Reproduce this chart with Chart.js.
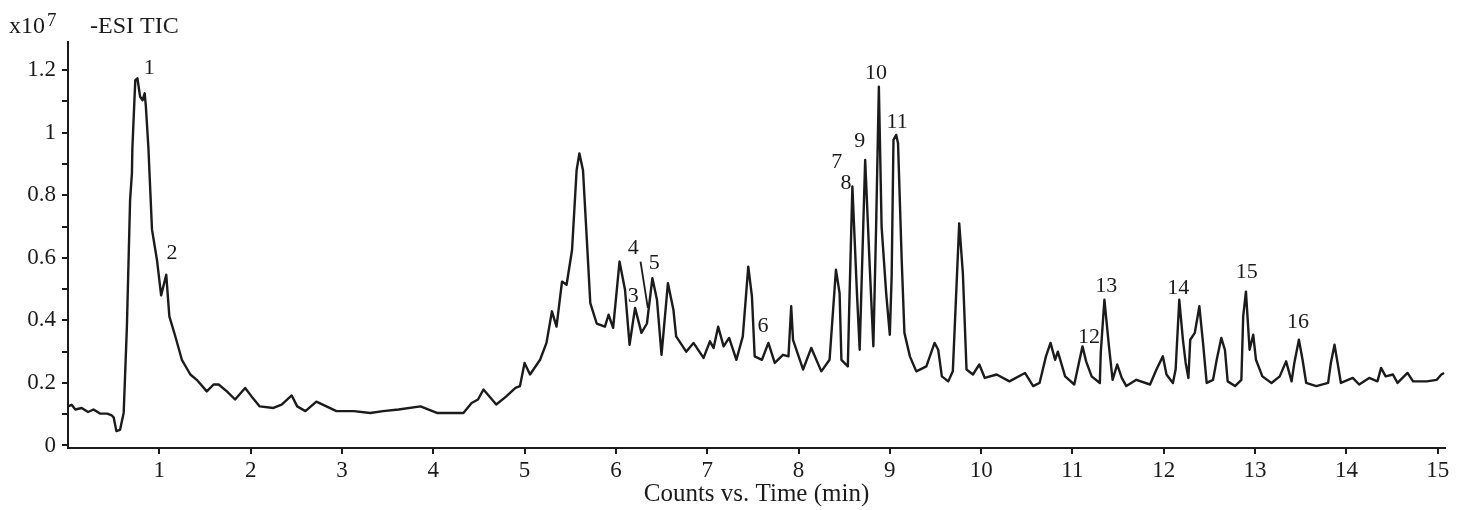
<!DOCTYPE html>
<html>
<head>
<meta charset="utf-8">
<script src="https://cdn.jsdelivr.net/npm/chart.js@4"></script>
<style>
  html, body { margin: 0; padding: 0; background: #fff; }
  #wrap { width: 1464px; height: 510px; }
</style>
</head>
<body>
<div id="wrap"><canvas id="tic"></canvas></div>
<script>
// retention time (min) and TIC counts (x10^7)
const timeMin = [
  0.00, 0.04, 0.08, 0.15, 0.22, 0.28, 0.35, 0.43, 0.48, 0.50, 0.53, 0.57, 0.61, 0.645, 0.68, 0.70, 0.705,
  0.718, 0.737, 0.76, 0.79, 0.817, 0.84, 0.853, 0.88, 0.92, 0.974, 1.02, 1.076, 1.11, 1.174, 1.247,
  1.34, 1.41, 1.52, 1.594, 1.65, 1.74, 1.83, 1.94, 2.01, 2.10, 2.25, 2.34, 2.45, 2.51, 2.60, 2.72,
  2.83, 2.94, 3.13, 3.31, 3.45, 3.62, 3.86, 4.04, 4.33, 4.42, 4.49, 4.55, 4.69, 4.80, 4.90, 4.95,
  5.00, 5.06, 5.17, 5.24, 5.30, 5.35, 5.41, 5.46, 5.52, 5.57, 5.60, 5.64, 5.68, 5.72, 5.79, 5.88,
  5.92, 5.97, 6.04, 6.10, 6.15, 6.21, 6.28, 6.34, 6.40, 6.45, 6.50, 6.57, 6.63, 6.66, 6.77, 6.85,
  6.96, 7.03, 7.07, 7.12, 7.18, 7.24, 7.32, 7.39, 7.45, 7.49, 7.52, 7.60, 7.67, 7.74, 7.83, 7.89,
  7.92, 7.94, 8.05, 8.14, 8.25, 8.34, 8.41, 8.45, 8.47, 8.54, 8.555, 8.59, 8.64, 8.67, 8.73, 8.78,
  8.82, 8.85, 8.88, 8.91, 8.96, 9.00, 9.02, 9.04, 9.07, 9.09, 9.13, 9.16, 9.22, 9.29, 9.40, 9.49,
  9.53, 9.57, 9.64, 9.69, 9.76, 9.80, 9.84, 9.91, 9.98, 10.04, 10.17, 10.31, 10.48, 10.57, 10.64, 10.71,
  10.76, 10.81, 10.84, 10.92, 11.02, 11.11, 11.15, 11.21, 11.30, 11.31, 11.35, 11.40, 11.44, 11.49, 11.54, 11.59,
  11.70, 11.85, 11.92, 11.99, 12.03, 12.10, 12.13, 12.17, 12.21, 12.24, 12.27, 12.29, 12.34, 12.39, 12.43, 12.47,
  12.54, 12.58, 12.63, 12.67, 12.70, 12.78, 12.85, 12.87, 12.90, 12.94, 12.98, 13.01, 13.08, 13.18, 13.27, 13.34,
  13.40, 13.43, 13.48, 13.52, 13.56, 13.67, 13.80, 13.83, 13.87, 13.91, 13.94, 14.07, 14.14, 14.25, 14.34, 14.38,
  14.43, 14.51, 14.56, 14.67, 14.73, 14.88, 14.99, 15.04, 15.07
];
const counts = [
  0.125, 0.13, 0.115, 0.12, 0.107, 0.115, 0.102, 0.102, 0.096, 0.09, 0.046, 0.05, 0.105, 0.38, 0.785, 0.87, 0.95,
  1.04, 1.168, 1.174, 1.115, 1.104, 1.126, 1.083, 0.955, 0.69, 0.594, 0.48, 0.546, 0.413, 0.35, 0.274,
  0.227, 0.21, 0.173, 0.195, 0.195, 0.173, 0.147, 0.184, 0.157, 0.125, 0.12, 0.131, 0.16, 0.125, 0.11, 0.14,
  0.125, 0.11, 0.11, 0.104, 0.11, 0.115, 0.125, 0.104, 0.104, 0.136, 0.147, 0.179, 0.131, 0.157, 0.184, 0.19,
  0.264, 0.227, 0.274, 0.328, 0.429, 0.38, 0.524, 0.514, 0.625, 0.88, 0.934, 0.88, 0.668, 0.455, 0.39, 0.38,
  0.418, 0.376, 0.588, 0.498, 0.322, 0.44, 0.36, 0.39, 0.535, 0.466, 0.29, 0.519, 0.434, 0.349, 0.30, 0.328,
  0.28, 0.333, 0.312, 0.38, 0.317, 0.344, 0.274, 0.349, 0.572, 0.477, 0.285, 0.274, 0.328, 0.264, 0.29, 0.285,
  0.445, 0.338, 0.243, 0.312, 0.237, 0.274, 0.562, 0.487, 0.274, 0.253, 0.434, 0.828, 0.487, 0.306, 0.913, 0.572,
  0.317, 0.70, 1.147, 0.70, 0.487, 0.354, 0.54, 0.977, 0.993, 0.966, 0.594, 0.36, 0.285, 0.237, 0.253, 0.328,
  0.306, 0.221, 0.205, 0.237, 0.71, 0.551, 0.243, 0.227, 0.259, 0.216, 0.227, 0.205, 0.232, 0.19, 0.20, 0.285,
  0.328, 0.274, 0.30, 0.221, 0.195, 0.317, 0.269, 0.221, 0.20, 0.296, 0.466, 0.317, 0.21, 0.259, 0.216, 0.19,
  0.21, 0.195, 0.243, 0.285, 0.227, 0.20, 0.243, 0.466, 0.338, 0.264, 0.216, 0.338, 0.36, 0.445, 0.328, 0.20,
  0.21, 0.274, 0.344, 0.306, 0.205, 0.19, 0.21, 0.413, 0.492, 0.306, 0.354, 0.274, 0.221, 0.20, 0.221, 0.269,
  0.205, 0.264, 0.338, 0.274, 0.20, 0.19, 0.20, 0.264, 0.322, 0.253, 0.20, 0.216, 0.195, 0.216, 0.205, 0.248,
  0.221, 0.227, 0.20, 0.232, 0.205, 0.205, 0.21, 0.227, 0.232
];

// numbered peaks: label text and where it sits (min, x10^7)
const peakNames = ['1', '2', '3', '4', '5', '6', '7', '8', '9', '10', '11', '12', '13', '14', '15', '16'];
const peakX = [0.89, 1.14, 6.19, 6.19, 6.42, 7.61, 8.42, 8.52, 8.67, 8.85, 9.08, 11.18, 11.37, 12.16, 12.91, 13.47];
const peakY = [1.207, 0.616, 0.476, 0.632, 0.584, 0.38, 0.906, 0.839, 0.973, 1.19, 1.034, 0.345, 0.51, 0.504, 0.555, 0.393];

// leader from label 4 down to its peak
const leaderX = [6.27, 6.35];
const leaderY = [0.588, 0.44];

const xTicks = [1, 2, 3, 4, 5, 6, 7, 8, 9, 10, 11, 12, 13, 14, 15];
const yTicks = [0, 0.1, 0.2, 0.3, 0.4, 0.5, 0.6, 0.7, 0.8, 0.9, 1.0, 1.1, 1.2];
const yTickLabels = ['0', '', '0.2', '', '0.4', '', '0.6', '', '0.8', '', '1', '', '1.2'];

const ink = '#1b1b1b';
const serif = '"Liberation Serif", "DejaVu Serif", serif';

const peakLabels = {
  id: 'peakLabels',
  afterDatasetsDraw(chart) {
    const {ctx, scales: {x, y}} = chart;
    ctx.save();
    ctx.fillStyle = ink;
    ctx.font = '22px ' + serif;
    ctx.textAlign = 'center';
    ctx.textBaseline = 'middle';
    peakNames.forEach((t, i) => {
      ctx.fillText(t, x.getPixelForValue(peakX[i]), y.getPixelForValue(peakY[i]));
    });
    // header: x10^7  -ESI TIC
    ctx.textAlign = 'left';
    ctx.textBaseline = 'alphabetic';
    ctx.font = '24px ' + serif;
    ctx.fillText('x10', 9, 33);
    const w = ctx.measureText('x10').width;
    ctx.font = '19px ' + serif;
    ctx.fillText('7', 9 + w + 2, 26);
    ctx.font = '24px ' + serif;
    ctx.fillText('-ESI TIC', 90, 33);
    ctx.restore();
  }
};

new Chart(document.getElementById('tic'), {
  type: 'line',
  data: {
    datasets: [{
      data: timeMin.map((t, i) => ({x: t, y: counts[i]})),
      borderColor: ink,
      borderWidth: 2.4,
      borderJoinStyle: 'round',
      pointRadius: 0,
      tension: 0,
      fill: false
    }, {
      data: leaderX.map((t, i) => ({x: t, y: leaderY[i]})),
      borderColor: ink,
      borderWidth: 1.8,
      pointRadius: 0,
      tension: 0
    }]
  },
  options: {
    responsive: true,
    maintainAspectRatio: false,
    animation: false,
    events: [],
    layout: { padding: { left: 0, top: 42, right: 19, bottom: 0 } },
    plugins: { legend: { display: false }, tooltip: { enabled: false } },
    scales: {
      x: {
        type: 'linear',
        min: 0,
        max: 15.08,
        afterBuildTicks: (s) => { s.ticks = xTicks.map(v => ({value: v})); },
        afterFit: (s) => { s.height = 62; },
        grid: { drawOnChartArea: false, drawTicks: true, tickLength: 6, color: ink, lineWidth: 2 },
        border: { display: true, color: ink, width: 2 },
        ticks: { color: ink, font: { family: serif, size: 23 }, padding: 3, maxRotation: 0 },
        title: {
          display: true,
          text: 'Counts vs. Time (min)',
          color: ink,
          font: { family: serif, size: 25 },
          padding: { top: 0, bottom: 1 }
        }
      },
      y: {
        min: -0.008,
        max: 1.29,
        afterBuildTicks: (s) => { s.ticks = yTicks.map(v => ({value: v})); },
        afterFit: (s) => { s.width = 68; },
        grid: { drawOnChartArea: false, drawTicks: true, tickLength: 6, color: ink, lineWidth: 2 },
        border: { display: true, color: ink, width: 2 },
        ticks: {
          color: ink,
          font: { family: serif, size: 23 },
          padding: 6,
          callback: (v, i) => yTickLabels[i]
        }
      }
    }
  },
  plugins: [peakLabels]
});
</script>
</body>
</html>
